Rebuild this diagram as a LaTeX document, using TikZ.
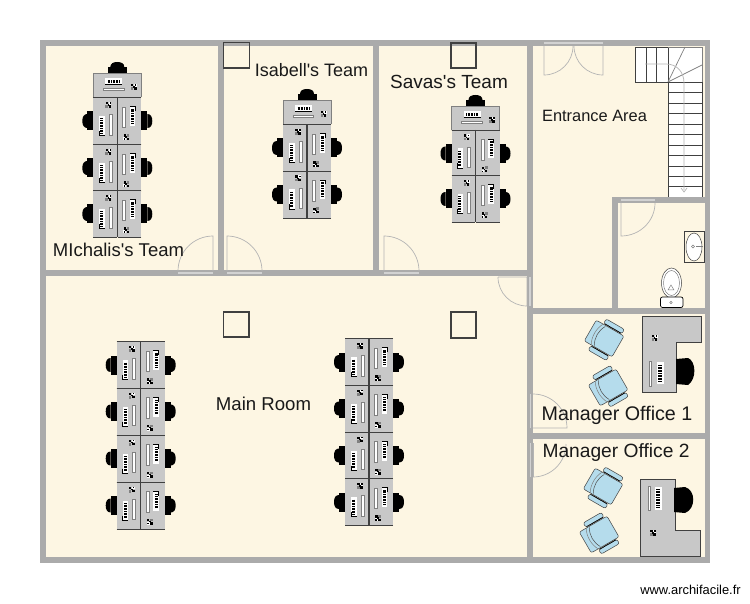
\documentclass[tikz,border=0pt]{standalone}
\usepackage{fontspec}
\setmainfont{Liberation Sans}[Ligatures=TeXOff]
\tikzset{
  every pic/.style={transform shape},
  wall/.style={fill=wallgray,draw=none},
  floorzone/.style={fill=floorcream,draw=none},
  pillar/.style={draw=linedark,line width=1.1pt,fill=none},
  doorleaf/.style={draw=doorgray,line width=.7pt},
  doorstrip/.style={draw=striplight,line width=1.8pt},
  deskface/.style={fill=deskgray,draw=none},
  deskedge/.style={draw=linedark,line width=.9pt},
  roomlabel/.style={inner sep=0pt,text=black!90},
  pics/phoneset/.style={code={
    \fill[black] (-2.8,-3) rectangle (-.4,-.6);
    \fill[black] (.4,.2) rectangle (2.8,2.6);
    \fill[gray] (-3,.4) rectangle (-.4,3);
    \fill[white] (.2,-3) rectangle (3,-.4);
    \fill[black] (-.8,-.8) rectangle (.9,.9);
    \fill[black] (1.2,-2.6) rectangle (2.6,-1.4);
  }},
  pics/blackchair/.style={code={
    \fill[black] (-6,-9.5) rectangle (0,9.5);
    \fill[black] (-6,-7) .. controls (-9.5,-7) and (-11,-4) .. (-11,0) .. controls (-11,4) and (-9.5,7) .. (-6,7) -- cycle;
  }},
  pics/deskcell/.style={code={
    \fill[deskgray] (0,-23.5) rectangle (23.8,23.5);
    \draw[deskedge] (23.8,-23.5) -- (23.8,23.5);
    \draw[deskedge] (0,-23.5) -- (23.8,-23.5) (0,23.5) -- (23.8,23.5);
    \fill[white] (6,-5) rectangle (11.5,14.5);
    \draw[black,line width=3pt,dash pattern=on .9pt off .7pt] (8.4,-2.5) -- (8.4,12);
    \draw[black,line width=.6pt] (6,10) -- (6,14.5) -- (11.5,14.5);
    \fill[white,draw=gray,line width=.4pt] (15.8,-6.5) rectangle (18.8,14);
    \pic at (15,-16) {phoneset};
    \pic at (0,0) {blackchair};
  }},
  pics/deskrow/.style={code={
    \pic at (-24,0) {deskcell};
    \pic[rotate=180] at (24,0) {deskcell};
  }},
  pics/headdesk/.style={code={
    \fill[deskgray] (-24,-24.5) rectangle (24,0);
    \draw[deskedge] (-24,0) -- (24,0);
    \draw[gray,line width=.6pt] (-24,0) -- (-24,-24.5) -- (24,-24.5) -- (24,0);
    \fill[white] (-12,-19) rectangle (5,-13);
    \draw[black,line width=3.2pt,dash pattern=on .9pt off .7pt] (-9.5,-16) -- (3,-16);
    \draw[black,line width=.6pt] (-12,-13) -- (5,-13);
    \fill[white,draw=gray,line width=.4pt] (-14,-9.5) rectangle (6.5,-7);
    \pic at (16.5,-10.5) {phoneset};
    \pic[rotate=-90] at (0,-24.5) {blackchair};
  }},
  pics/armchair/.style={code={
    \begin{scope}[draw=linedark,line width=.5pt,fill=chairblue,rounded corners=2pt]
      \filldraw (-17,-12) rectangle (15,12);
      \filldraw (-9,-18) rectangle (12,-13);
      \filldraw (-9,13) rectangle (12,18);
    \end{scope}
    \draw[black,line width=.9pt,dash pattern=on .8pt off .5pt] (-8,-13) -- (11,-13) (-8,13) -- (11,13);
    \draw[gray,line width=.5pt] (-9,-12) .. controls (-13,-5) and (-13,5) .. (-9,12);
    \draw[black!70,line width=.5pt] (-6,-11) .. controls (-10,-4) and (-10,4) .. (-6,11);
  }},
}
\definecolor{wallgray}{HTML}{ABABAB}
\definecolor{floorcream}{HTML}{FDF6E3}
\definecolor{linedark}{HTML}{404040}
\definecolor{doorgray}{HTML}{B4B4B4}
\definecolor{striplight}{HTML}{D2D2D2}
\definecolor{deskgray}{HTML}{C8C8C8}
\definecolor{chairblue}{HTML}{B5DCEC}
\begin{document}
\begin{tikzpicture}[x=1pt,y=-1pt,line join=miter]
\useasboundingbox (0,0) rectangle (750,604);
\fill[white] (0,0) rectangle (750,604);
% floor
\fill[floorzone] (42,42) rectangle (708,561);
% stairs
\fill[white] (635,47) rectangle (702,82);
\fill[white] (668,82) rectangle (702,197);
\draw[linedark,line width=.8pt] (635,47) rectangle (668,82);
\draw[linedark,line width=.8pt] (646,47) -- (646,82) (656.6,47) -- (656.6,82);
\draw[gray,line width=.7pt] (668,47) -- (702,47) -- (702,82);
\draw[gray,line width=.7pt] (668,82) -- (685,47) (668,82) -- (702,65);
\draw[linedark,line width=.8pt] (668,82) rectangle (702,197);
\foreach \ty in {92.5,103,113.3,124,134.7,145,155.5,166,176,186.5}
  \draw[linedark,line width=.7pt] (668,\ty) -- (702,\ty);
\draw[doorgray,line width=.7pt] (645,64) -- (666,64) .. controls (677,64) and (684,72) .. (684,83) -- (684,190);
\draw[doorgray,line width=.7pt] (681,188) -- (684,192) -- (687,188);
% walls
\fill[wall] (39.5,40) rectangle (710,46.3);
\fill[wall] (39.5,557) rectangle (710,563.3);
\fill[wall] (39.5,40) rectangle (45.8,563.3);
\fill[wall] (704.5,40) rectangle (710,563.3);
\fill[wall] (218,40) rectangle (223.5,276);
\fill[wall] (373,40) rectangle (378.5,276);
\fill[wall] (527,40) rectangle (533,563.3);
\fill[wall] (39.5,270) rectangle (533,276.5);
\fill[wall] (612,197) rectangle (618,313);
\fill[wall] (612,197) rectangle (710,203);
\fill[wall] (527,308) rectangle (710,313.5);
\fill[wall] (527,433) rectangle (710,438.5);
% pillars
\draw[pillar] (223.5,42.5) rectangle (249.5,68);
\draw[pillar] (451,43) rectangle (476,68);
\draw[pillar] (223.5,312) rectangle (249,337);
\draw[pillar] (451,312) rectangle (476,338);
% doors
\draw[doorstrip] (178,272.8) -- (213,272.8);
\draw[doorleaf] (213,271) -- (213,236) arc[start angle=-90,end angle=-180,radius=35];
\draw[doorstrip] (227,272.8) -- (262,272.8);
\draw[doorleaf] (227,271) -- (227,236) arc[start angle=-90,end angle=0,radius=35];
\draw[doorstrip] (384,272.8) -- (419,272.8);
\draw[doorleaf] (384,271) -- (384,236) arc[start angle=-90,end angle=0,radius=35];
\draw[doorstrip] (530,277) -- (530,306);
\draw[doorleaf] (498,277) -- (527,277) -- (527,306) arc[start angle=90,end angle=180,radius=29];
\draw[doorstrip] (530.5,394) -- (530.5,428);
\draw[doorleaf] (533,394) arc[start angle=-90,end angle=0,radius=34] -- (533,428);
\draw[doorstrip] (530.5,443) -- (530.5,477);
\draw[doorleaf] (533,477) arc[start angle=90,end angle=0,radius=33];
\draw[doorleaf] (533,477) -- (533,443);
\draw[doorstrip] (544,43) -- (603,43);
\draw[doorleaf] (544,46) -- (544,75) .. controls (560,75) and (573,62) .. (573,46);
\draw[doorleaf] (603,46) -- (603,75) .. controls (587,75) and (574,62) .. (574,46);
\draw[doorstrip] (621,200) -- (655,200);
\draw[doorleaf] (621,203) -- (621,236) .. controls (640,236) and (655,221) .. (655,203);
% sink
\draw[linedark,fill=floorcream,line width=.7pt] (684.3,231) rectangle (704.5,262.7);
\draw[linedark,fill=white,line width=.5pt] (694,247) ellipse[x radius=8,y radius=14];
\draw[gray,line width=.5pt] (693,246.5) circle[radius=1.5];
\draw[gray,line width=1pt] (696,247) -- (703,247);
% toilet
\draw[linedark,fill=white,line width=.5pt] (671.5,283) ellipse[x radius=10,y radius=15];
\draw[gray,fill=white,line width=.5pt] (671.5,283) ellipse[x radius=8,y radius=12.5];
\draw[gray,line width=.5pt] (668,290) -- (671,285) -- (674,290) -- cycle;
\draw[black,fill=white,line width=.7pt,rounded corners=2pt] (660.5,297) rectangle (683,307.5);
\draw[gray,line width=.5pt] (671,302.5) circle[radius=1.3];
% desks team rooms
\pic at (117.3,97.5) {headdesk};
\pic at (307,124.5) {headdesk};
\pic at (475.5,130.5) {headdesk};
\foreach \cy in {121,168,214} \pic at (117.3,\cy) {deskrow};
\foreach \cy in {148,194.5} \pic at (307,\cy) {deskrow};
\foreach \cy in {153.5,199} \pic at (475.5,\cy) {deskrow};
\foreach \cy in {365,411.5,458.5,505.5} \pic at (140.7,\cy) {deskrow};
\foreach \cy in {362,408.5,455.5,502} \pic at (369,\cy) {deskrow};
% manager desks
\draw[deskedge,fill=deskgray] (642,316) -- (701,316) -- (701,342) -- (676,342) -- (676,392) -- (642,392) -- cycle;
\fill[white] (656.5,362) rectangle (664,384);
\draw[black,line width=4pt,dash pattern=on .9pt off .7pt] (660.2,365) -- (660.2,382);
\fill[white,draw=gray,line width=.4pt] (649,361) rectangle (651,386);
\pic at (654.5,338) {phoneset};
\fill[black] (676,359) -- (688,358) .. controls (696,361) and (697,379) .. (688,385) -- (676,384) -- cycle;
\draw[deskedge,fill=deskgray] (640,479) -- (675,479) -- (675,530) -- (700,530) -- (700,556) -- (640,556) -- cycle;
\fill[white] (654.5,487) rectangle (662,510);
\draw[black,line width=4pt,dash pattern=on .9pt off .7pt] (658.2,489) -- (658.2,508);
\fill[white,draw=gray,line width=.4pt] (648.5,486) rectangle (650.5,510);
\pic at (653,533) {phoneset};
\fill[black] (674,488) -- (685,487) .. controls (696,490) and (696,509) .. (685,513) -- (674,512) -- cycle;
% armchairs
\pic[rotate=-30] at (605,339) {armchair};
\pic[rotate=30] at (609,387) {armchair};
\pic[rotate=-30] at (604,487) {armchair};
\pic[rotate=30] at (600,534) {armchair};
% labels
\node[roomlabel,font=\fontsize{18.5}{20}\selectfont] (michalis) at (118.5,249.5) {MIchalis's Team};
\node[roomlabel,font=\fontsize{18}{20}\selectfont] (isabell) at (311.5,70.5) {Isabell's Team};
\node[roomlabel,font=\fontsize{19}{20}\selectfont] (savas) at (449,81.5) {Savas's Team};
\node[roomlabel,font=\fontsize{16.4}{20}\selectfont] (entrance) at (594.5,116) {Entrance Area};
\node[roomlabel,font=\fontsize{18.6}{20}\selectfont] (mainroom) at (263.5,403.5) {Main Room};
\node[roomlabel,font=\fontsize{19.7}{20}\selectfont] (mgrone) at (617,415.5) {Manager Office 1};
\node[roomlabel,font=\fontsize{19.2}{20}\selectfont] (mgrtwo) at (616,452.5) {Manager Office 2};
\node[inner sep=0pt,text=black,font=\fontsize{12.9}{14}\selectfont] (mark) at (690.5,590) {www.archifacile.fr};
\end{tikzpicture}
\end{document}
